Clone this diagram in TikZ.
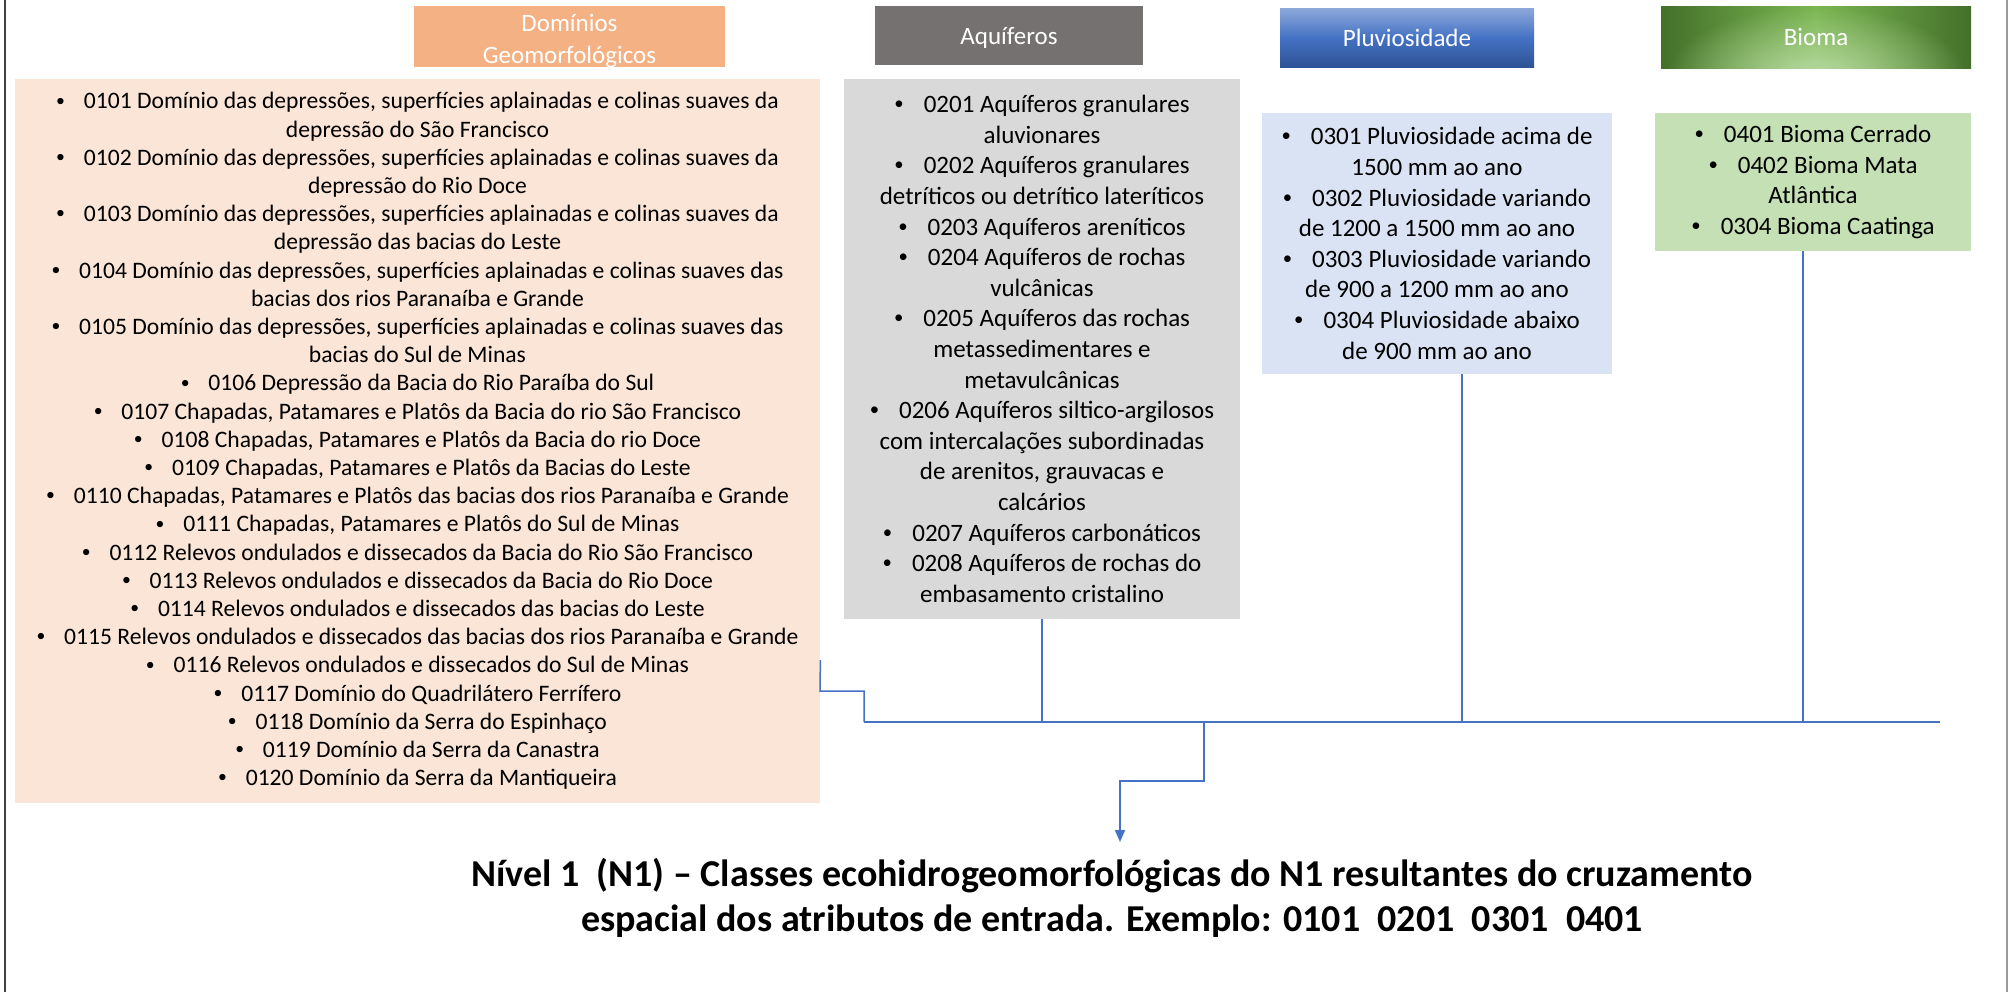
\documentclass[tikz,border=0pt]{standalone}
\usepackage{fontspec}
\setmainfont{Carlito}
\usetikzlibrary{arrows.meta,fadings}
\definecolor{hdrOrange}{HTML}{F4B183}
\definecolor{boxPeach}{HTML}{FBE5D6}
\definecolor{hdrGrey}{HTML}{767171}
\definecolor{boxGrey}{HTML}{D9D9D9}
\definecolor{boxBlue}{HTML}{DAE3F3}
\definecolor{boxGreen}{HTML}{C5E0B4}
\definecolor{lineBlue}{HTML}{4472C4}
\definecolor{blueTop}{HTML}{8EA9DB}
\definecolor{blueMid}{HTML}{4472C4}
\definecolor{blueBot}{HTML}{2E5395}
\definecolor{greenDark}{HTML}{44702A}
\definecolor{greenMid}{HTML}{7AB651}
\definecolor{greenLight}{HTML}{B8DAA2}
\tikzfading[name=glowfade, inner color=transparent!0, outer color=transparent!100]
\newcommand{\bul}{\raisebox{0.12em}{\scalebox{0.75}{\textbullet}}\hspace{0.8em}}
\begin{document}
\begin{tikzpicture}[x=0.5pt,y=-0.5pt,
  hdrbox/.style={inner sep=0pt},
  hdrtext/.style={inner sep=0pt, text=white, align=center, font=\fontsize{12.5}{16.3}\selectfont},
  listbox/.style={inner sep=0pt, align=center},
  smallfont/.style={font=\fontsize{11.8}{14.1}\selectfont},
  bigfont/.style={font=\fontsize{12.5}{15.3}\selectfont},
  conn/.style={draw=lineBlue, line width=0.75pt}
]
\useasboundingbox (0,0) rectangle (2009,992);
\draw[draw=black!75, line width=1pt] (5,0) -- (5,992);
\draw[draw=black!40, line width=1pt] (2007,0) -- (2007,992);

% headers
\node[hdrbox, fill=hdrOrange, minimum width=155.5pt, minimum height=30.5pt] (hdom) at (569.5,36.5) {};
\node[hdrtext] (tdom) at ([yshift=-2.2pt]hdom.center) {Domínios\\Geomorfológicos};
\node[hdrbox, fill=hdrGrey, minimum width=134pt, minimum height=29.5pt] (haq) at (1009,35.5) {};
\node[hdrtext] (taq) at ([yshift=-1.3pt]haq.center) {Aquíferos};
\node[hdrbox, top color=blueTop, bottom color=blueBot, middle color=blueMid, minimum width=127pt, minimum height=29.5pt] (hpl) at (1407,37.5) {};
\node[hdrtext] (tpl) at (hpl.center) {Pluviosidade};
\node[hdrbox, left color=greenDark, right color=greenDark, middle color=greenMid, minimum width=155pt, minimum height=31pt] (hbi) at (1816,37) {};
\begin{scope}
\clip (hbi.south west) rectangle (hbi.north east);
\fill[greenLight, path fading=glowfade] ([yshift=-4pt]hbi.south) ellipse [x radius=150, y radius=70];
\end{scope}
\node[hdrtext] (tbi) at (hbi.center) {Bioma};

% list boxes
\node[listbox, smallfont, fill=boxPeach, minimum width=402.5pt, minimum height=362pt] (dom) at (417.5,441) {%
\bul 0101 Domínio das depressões, superfícies aplainadas e colinas suaves da\\ depressão do São Francisco\\
\bul 0102 Domínio das depressões, superfícies aplainadas e colinas suaves da\\ depressão do Rio Doce\\
\bul 0103 Domínio das depressões, superfícies aplainadas e colinas suaves da\\ depressão das bacias do Leste\\
\bul 0104 Domínio das depressões, superfícies aplainadas e colinas suaves das\\ bacias dos rios Paranaíba e Grande\\
\bul 0105 Domínio das depressões, superfícies aplainadas e colinas suaves das\\ bacias do Sul de Minas\\
\bul 0106 Depressão da Bacia do Rio Paraíba do Sul\\
\bul 0107 Chapadas, Patamares e Platôs da Bacia do rio São Francisco\\
\bul 0108 Chapadas, Patamares e Platôs da Bacia do rio Doce\\
\bul 0109 Chapadas, Patamares e Platôs da Bacias do Leste\\
\bul 0110 Chapadas, Patamares e Platôs das bacias dos rios Paranaíba e Grande\\
\bul 0111 Chapadas, Patamares e Platôs do Sul de Minas\\
\bul 0112 Relevos ondulados e dissecados da Bacia do Rio São Francisco\\
\bul 0113 Relevos ondulados e dissecados da Bacia do Rio Doce\\
\bul 0114 Relevos ondulados e dissecados das bacias do Leste\\
\bul 0115 Relevos ondulados e dissecados das bacias dos rios Paranaíba e Grande\\
\bul 0116 Relevos ondulados e dissecados do Sul de Minas\\
\bul 0117 Domínio do Quadrilátero Ferrífero\\
\bul 0118 Domínio da Serra do Espinhaço\\
\bul 0119 Domínio da Serra da Canastra\\
\bul 0120 Domínio da Serra da Mantiqueira};

\node[listbox, bigfont, fill=boxGrey, minimum width=198pt, minimum height=270pt] (aq) at (1042,349) {%
\bul 0201 Aquíferos granulares\\ aluvionares\\
\bul 0202 Aquíferos granulares\\ detríticos ou detrítico lateríticos\\
\bul 0203 Aquíferos areníticos\\
\bul 0204 Aquíferos de rochas\\ vulcânicas\\
\bul 0205 Aquíferos das rochas\\ metassedimentares e\\ metavulcânicas\\
\bul 0206 Aquíferos siltico-argilosos\\ com intercalações subordinadas\\ de arenitos, grauvacas e\\ calcários\\
\bul 0207 Aquíferos carbonáticos\\
\bul 0208 Aquíferos de rochas do\\ embasamento cristalino};

\node[listbox, bigfont, fill=boxBlue, minimum width=175pt, minimum height=130.5pt] (pl) at (1437,243.5) {%
\bul 0301 Pluviosidade acima de\\ 1500 mm ao ano\\
\bul 0302 Pluviosidade variando\\ de 1200 a 1500 mm ao ano\\
\bul 0303 Pluviosidade variando\\ de 900 a 1200 mm ao ano\\
\bul 0304 Pluviosidade abaixo\\ de 900 mm ao ano};

\node[listbox, bigfont, fill=boxGreen, minimum width=158pt, minimum height=69pt] (bi) at (1813,182) {%
\bul 0401 Bioma Cerrado\\
\bul 0402 Bioma Mata\\ Atlântica\\
\bul 0304 Bioma Caatinga};

% result text
\node[inner sep=0pt, align=center, font=\bfseries\fontsize{19}{22.5}\selectfont] (res) at (1112,898) {%
Nível 1\ \ (N1) – Classes ecohidrogeomorfológicas do N1 resultantes do cruzamento\\
espacial dos atributos de entrada. Exemplo: 0101\ \ 0201\ \ 0301\ \ 0401};

% connectors
\coordinate (dstart) at (820,660);
\coordinate (jL) at (864,722);
\coordinate (jA) at (1042,722);
\coordinate (jP) at (1462,722);
\coordinate (jB) at (1803,722);
\coordinate (jR) at (1940,722);
\coordinate (jO) at (1204,722);
\coordinate (atip) at (1120,842);

\draw[conn] (dom.east |- dstart) -- (820,691) -- (864,691) -- (jL);
\draw[conn] (jL) -- (jR);
\draw[conn] (aq.south) -- (jA);
\draw[conn] (pl.south -| jP) -- (jP);
\draw[conn] (bi.south -| jB) -- (jB);
\draw[conn, -{Triangle[width=5pt,length=6pt]}] (jO) -- (1204,781) -- (1120,781) -- (atip);
\end{tikzpicture}
\end{document}
